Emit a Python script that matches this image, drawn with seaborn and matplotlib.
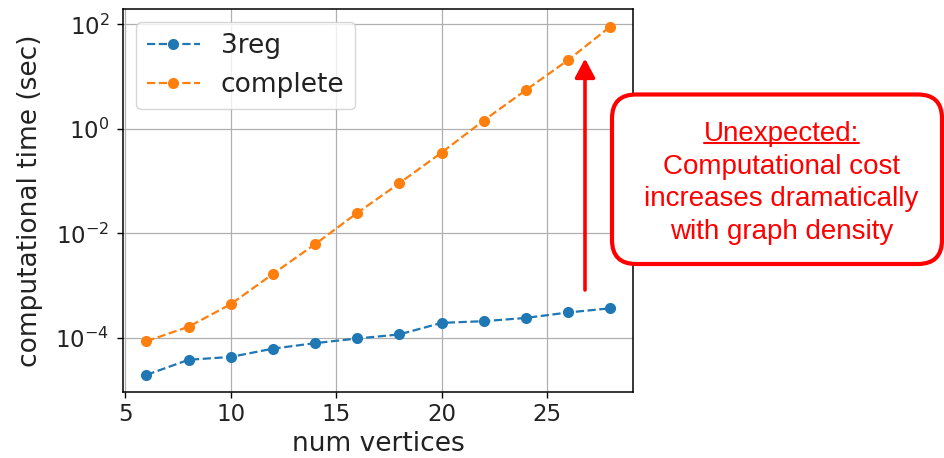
import numpy as np
import pandas as pd
import seaborn as sns
import matplotlib
matplotlib.use("Agg")
import matplotlib.pyplot as plt
from matplotlib.patches import FancyBboxPatch, FancyArrowPatch
from matplotlib.lines import Line2D
from matplotlib.transforms import Affine2D
from matplotlib.ticker import NullLocator, FixedLocator

# Benchmark timings (seconds) versus graph size
num_vertices = [6, 8, 10, 12, 14, 16, 18, 20, 22, 24, 26, 28]
time_3reg = [1.95e-5, 3.8e-5, 4.3e-5, 6.2e-5, 7.9e-5, 9.7e-5, 1.16e-4,
             1.93e-4, 2.08e-4, 2.4e-4, 3.05e-4, 3.67e-4]
time_complete = [8.6e-5, 1.63e-4, 4.4e-4, 1.67e-3, 6.2e-3, 2.45e-2, 9.1e-2,
                 0.35, 1.44, 5.5, 20.6, 90.0]
series_names = ["3reg", "complete"]
x_ticks = [5, 10, 15, 20, 25]
y_ticks = [1e-4, 1e-2, 1e0, 1e2]

note_lines = ["Unexpected:", "Computational cost",
              "increases dramatically", "with graph density"]

df = pd.DataFrame({
    "num vertices": num_vertices * 2,
    "time": time_3reg + time_complete,
    "graph": [series_names[0]] * len(num_vertices) + [series_names[1]] * len(num_vertices),
})

sns.set_theme(style="ticks")
plt.rcParams["font.family"] = ["DejaVu Sans"]

W, H = 944, 458
fig = plt.figure(figsize=(W / 100, H / 100), dpi=100)
ax = fig.add_axes([123.3 / W, 1 - 392.3 / H, (633.3 - 123.3) / W, (392.3 - 9.3) / H])
ax.set_yscale("log")

palette = ["#1f77b4", "#ff7f0e"]
sns.lineplot(data=df, x="num vertices", y="time", hue="graph", palette=palette,
             linestyle="--", marker="o", markersize=8, markeredgewidth=0,
             linewidth=1.6, ax=ax, legend=False)

ax.set_xticks(x_ticks)
ax.yaxis.set_major_locator(FixedLocator(y_ticks))
ax.yaxis.set_minor_locator(NullLocator())
ax.grid(True, which="major", color="#b0b0b0", linewidth=0.9)
ax.set_axisbelow(True)
for sp in ax.spines.values():
    sp.set_color("black")
    sp.set_linewidth(1.1)
ax.tick_params(axis="both", which="major", labelsize=16.5, length=4, width=1,
               color="black", labelcolor="#222222")
ax.tick_params(axis="y", pad=6)
ax.set_xlabel("num vertices", fontsize=19, color="#222222")
ax.set_ylabel("computational time (sec)", fontsize=19, color="#222222", labelpad=9)

handles = [Line2D([], [], color=c, linestyle="--", marker="o", markersize=8,
                  markeredgewidth=0, linewidth=1.6) for c in palette]
leg = ax.legend(handles, series_names, loc="upper left", fontsize=19,
                frameon=True, borderaxespad=0.5)
leg.get_frame().set_edgecolor("#cccccc")
leg.get_frame().set_linewidth(1.0)
for t in leg.get_texts():
    t.set_color("#222222")

# pixel coordinates with the origin at the top-left of the figure
px = Affine2D().scale(1 / W, -1 / H).translate(0, 1) + fig.transFigure

red = "#ff0000"
arrow = FancyArrowPatch((585, 290), (585, 58.5), transform=px,
                        arrowstyle="-|>,head_length=11.5,head_width=6.1",
                        mutation_scale=1, color=red, linewidth=2.6,
                        shrinkA=0, shrinkB=0)
fig.add_artist(arrow)

box = FancyBboxPatch((612, 94.5), 330, 169.5, transform=px,
                     boxstyle="round,pad=0,rounding_size=24",
                     facecolor="white", edgecolor=red, linewidth=3.0)
fig.add_artist(box)

baselines = [141, 173.5, 206.5, 239.3]
texts = []
for line, yb in zip(note_lines, baselines):
    t = fig.text(781.5, yb, line, transform=px, ha="center", va="baseline",
                 color=red, fontsize=20, family=["Liberation Sans", "DejaVu Sans"])
    texts.append(t)

fig.canvas.draw()
bb = texts[0].get_window_extent(renderer=fig.canvas.get_renderer())
ul_y = baselines[0] + 2.0
fig.add_artist(Line2D([bb.x0 / fig.dpi * 100, bb.x1 / fig.dpi * 100], [ul_y, ul_y],
                      transform=px, color=red, linewidth=1.5))

fig.savefig("out.png", dpi=100)
